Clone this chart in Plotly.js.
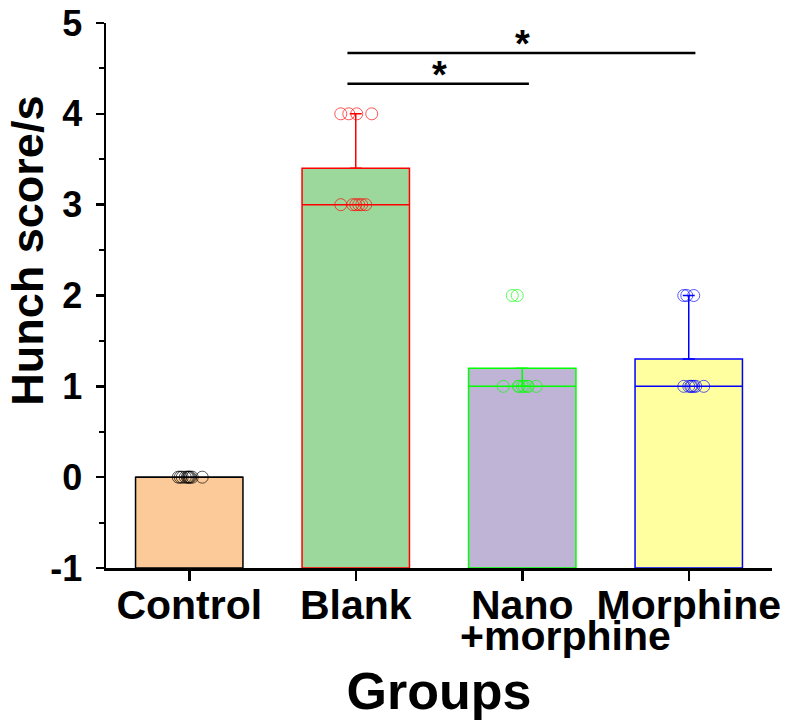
<!DOCTYPE html>
<html><head><meta charset="utf-8">
<script src="https://cdn.plot.ly/plotly-3.0.1.min.js"></script>
<style>html,body{margin:0;padding:0;background:#fff}#chart{width:787px;height:726px}</style>
</head><body><div id="chart"></div>
<script>
// ---- data ----
const groups = ['Control', 'Blank', 'Nano', 'Morphine'];
const groupSecondLine = ['', '', '+morphine', ''];
const means = [0, 3.4, 1.2, 1.3];
const medians = [0, 3, 1, 1];
const errPlus = [0, 0.6, 0, 0.7];
const errMinus = [0, 0, 0.2, 0];
const pointsControl = [0, 0, 0, 0, 0, 0, 0, 0, 0, 0];
const pointsBlank = [4, 4, 4, 4, 3, 3, 3, 3, 3, 3];
const pointsNano = [2, 2, 1, 1, 1, 1, 1, 1, 1, 1];
const pointsMorphine = [2, 2, 2, 1, 1, 1, 1, 1, 1, 1];
const jitterControl = [-0.066, -0.054, -0.042, -0.024, -0.012, -0.006, 0.006, 0.018, 0.0, 0.078];
const jitterBlank = [-0.09, -0.042, 0.006, 0.096, -0.09, -0.018, 0.0, 0.018, 0.036, 0.06];
const jitterNano = [-0.06, -0.03, -0.114, -0.024, -0.018, 0.0, 0.012, 0.03, 0.036, 0.084];
const jitterMorphine = [-0.03, -0.012, 0.03, -0.03, 0.0, 0.012, 0.018, 0.03, 0.042, 0.09];
const fillColors = ['#FBCA98', '#9CD79C', '#BFB3D6', '#FFFFA0'];
const edgeColors = ['#000000', '#FF0000', '#00FF00', '#0000FF'];
const yTicks = [-1, 0, 1, 2, 3, 4, 5];
const yTickText = ['-1', '0', '1', '2', '3', '4', '5'];
const yBase = -1;
// significance comparisons
const sigFrom = [1, 1];
const sigTo = [3, 2];
const sigLevel = [4.67, 4.33];
const sigLabel = ['*', '*'];

const pointSets = [pointsControl, pointsBlank, pointsNano, pointsMorphine];
const jitterSets = [jitterControl, jitterBlank, jitterNano, jitterMorphine];
const barW = 0.645;
const font = 'Arial, "Liberation Sans", sans-serif';

const traces = [];
groups.forEach((g, i) => {
  traces.push({
    type: 'bar', x: [i], y: [means[i] - yBase], base: [yBase], width: barW,
    marker: {color: fillColors[i], line: {color: edgeColors[i], width: 1.5}},
    showlegend: false, hoverinfo: 'skip'
  });
});
groups.forEach((g, i) => {
  traces.push({
    type: 'scatter', mode: 'lines', x: [i - barW / 2, i + barW / 2], y: [medians[i], medians[i]],
    line: {color: edgeColors[i], width: 1.5}, showlegend: false, hoverinfo: 'skip'
  });
  if (errPlus[i] > 0 || errMinus[i] > 0) {
    traces.push({
      type: 'scatter', mode: 'markers', x: [i], y: [means[i]],
      marker: {size: 1, opacity: 0},
      error_y: {type: 'data', symmetric: false, array: [errPlus[i]], arrayminus: [errMinus[i]],
        color: edgeColors[i], thickness: 1.5, width: 6},
      showlegend: false, hoverinfo: 'skip'
    });
  }
});
groups.forEach((g, i) => {
  traces.push({
    type: 'scatter', mode: 'markers',
    x: pointSets[i].map((v, k) => i + jitterSets[i][k]), y: pointSets[i],
    marker: {symbol: 'circle-open', size: 12, color: edgeColors[i], opacity: 0.65, line: {width: 1}},
    showlegend: false, hoverinfo: 'skip'
  });
});

const shapes = [];
const annotations = [];
sigFrom.forEach((f, k) => {
  shapes.push({type: 'line', xref: 'x', yref: 'y', x0: f - 0.05, x1: sigTo[k] + 0.04,
    y0: sigLevel[k], y1: sigLevel[k], line: {color: '#000', width: 2.5}});
  annotations.push({xref: 'x', yref: 'y', x: (f + sigTo[k]) / 2, y: sigLevel[k], yanchor: 'bottom',
    yshift: -14, text: sigLabel[k], showarrow: false, font: {family: font, size: 38, color: '#000', weight: 'bold'}});
});
groupSecondLine.forEach((t, i) => {
  if (!t) return;
  annotations.push({xref: 'x', yref: 'paper', x: i, y: 0, xanchor: 'left', yanchor: 'top',
    xshift: -64, yshift: -43, text: t, showarrow: false,
    font: {family: font, size: 41, color: '#000', weight: 'bold'}});
});
annotations.push({xref: 'paper', yref: 'paper', x: -0.118, y: 0.583, xanchor: 'center', yanchor: 'middle',
  textangle: -90, text: 'Hunch score/s', showarrow: false,
  font: {family: font, size: 45, color: '#000', weight: 'bold'}});

const layout = {
  width: 787, height: 726,
  margin: {l: 106, r: 15, t: 23, b: 158},
  paper_bgcolor: '#fff', plot_bgcolor: '#fff',
  barmode: 'overlay',
  showlegend: false,
  xaxis: {
    range: [-0.5, 3.5], tickvals: [0, 1, 2, 3], ticktext: groups,
    showgrid: false, zeroline: false, showline: true, linecolor: '#000', linewidth: 2.5,
    ticks: 'outside', ticklen: 10, tickwidth: 2.5, tickcolor: '#000', ticklabelstandoff: -11,
    tickfont: {family: font, size: 41, color: '#000', weight: 'bold'},
    title: {text: 'Groups', font: {family: font, size: 52, color: '#000', weight: 'bold'}, standoff: 46}
  },
  yaxis: {
    range: [-1, 5], tickvals: yTicks, ticktext: yTickText,
    showgrid: false, zeroline: false, showline: true, linecolor: '#000', linewidth: 2.5,
    ticks: 'outside', ticklen: 8, tickwidth: 2.5, tickcolor: '#000', ticklabelstandoff: 6,
    minor: {dtick: 0.5, ticklen: 5, tickwidth: 2, tickcolor: '#000', ticks: 'outside'},
    tickfont: {family: font, size: 36, color: '#000', weight: 'bold'}
  },
  shapes: shapes,
  annotations: annotations
};
Plotly.newPlot('chart', traces, layout, {displayModeBar: false, staticPlot: true});
</script></body></html>
